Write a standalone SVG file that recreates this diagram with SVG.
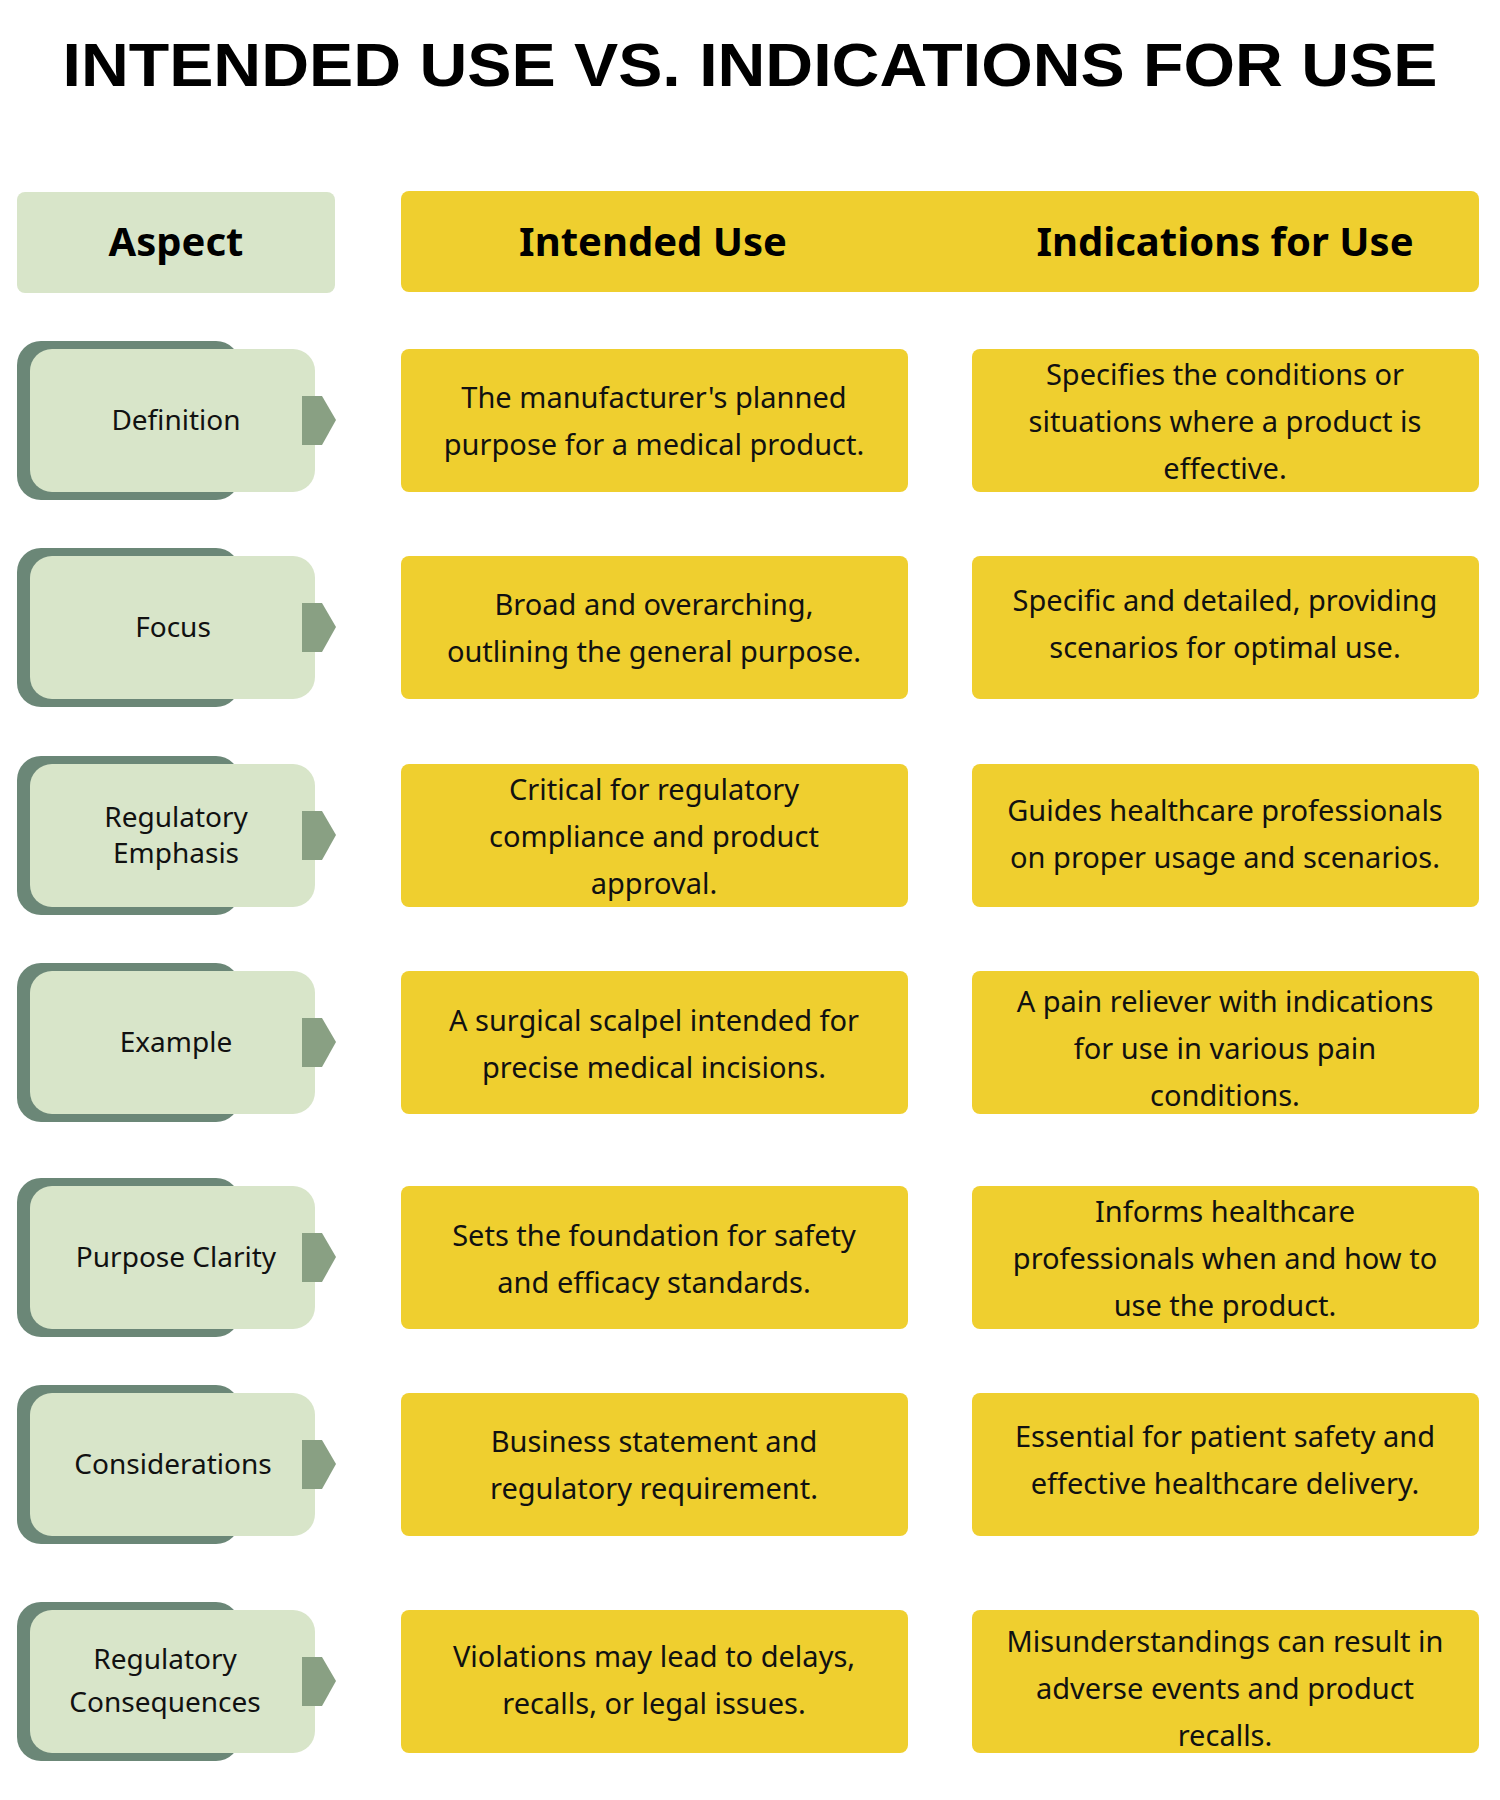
<svg xmlns="http://www.w3.org/2000/svg" width="1500" height="1800" viewBox="0 0 1500 1800">
<defs><style>
.t{font-family:"Liberation Sans",Arial,sans-serif;font-weight:bold;font-size:62px;fill:#000}
.h{font-family:"Noto Sans","Liberation Sans",sans-serif;font-weight:bold;font-size:40px;fill:#000;text-anchor:middle}
.b{font-family:"Noto Sans","Liberation Sans",sans-serif;font-size:29px;fill:#111;text-anchor:middle}
.a{font-family:"Noto Sans","Liberation Sans",sans-serif;font-size:28px;fill:#111;text-anchor:middle}
.y{fill:#EFCF2F}.g{fill:#D8E5C9}.d{fill:#6B8777}.k{fill:#89A083}
</style>
<g id="aspectShape">
<rect class="d" x="17" y="-79" width="223" height="159" rx="24"/>
<rect class="g" x="30" y="-71" width="285" height="143" rx="22"/>
<polygon class="k" points="302,-24 322,-24 336,0 322,25 302,25"/>
</g>
</defs>
<rect width="1500" height="1800" fill="#fff"/>
<text class="t" x="750" y="86" text-anchor="middle" textLength="1375" lengthAdjust="spacingAndGlyphs">INTENDED USE VS. INDICATIONS FOR USE</text>
<g id="header">
<rect class="g" x="17" y="192" width="318" height="101" rx="8"/>
<rect class="y" x="401" y="191" width="1078" height="101" rx="8"/>
<text class="h" x="176" y="256">Aspect</text>
<text class="h" x="653" y="256">Intended Use</text>
<text class="h" x="1225" y="256">Indications for Use</text>
</g>
<g id="connectors"></g>

<g id="row1" transform="translate(0,420)">
<use href="#aspectShape"/>
<text class="a" x="176" y="10">Definition</text>
<rect class="y" x="401" y="-71" width="507" height="143" rx="8"/>
<text class="b" x="654" y="-12">The manufacturer's planned</text>
<text class="b" x="654" y="35">purpose for a medical product.</text>
<rect class="y" x="972" y="-71" width="507" height="143" rx="8"/>
<text class="b" x="1225" y="-35">Specifies the conditions or</text>
<text class="b" x="1225" y="12">situations where a product is</text>
<text class="b" x="1225" y="59">effective.</text>
</g>

<g id="row2" transform="translate(0,627)">
<use href="#aspectShape"/>
<text class="a" x="173" y="10">Focus</text>
<rect class="y" x="401" y="-71" width="507" height="143" rx="8"/>
<text class="b" x="654" y="-12">Broad and overarching,</text>
<text class="b" x="654" y="35">outlining the general purpose.</text>
<rect class="y" x="972" y="-71" width="507" height="143" rx="8"/>
<text class="b" x="1225" y="-16">Specific and detailed, providing</text>
<text class="b" x="1225" y="31">scenarios for optimal use.</text>
</g>

<g id="row3" transform="translate(0,835)">
<use href="#aspectShape"/>
<text class="a" x="176" y="-8">Regulatory</text>
<text class="a" x="176" y="28">Emphasis</text>
<rect class="y" x="401" y="-71" width="507" height="143" rx="8"/>
<text class="b" x="654" y="-35">Critical for regulatory</text>
<text class="b" x="654" y="12">compliance and product</text>
<text class="b" x="654" y="59">approval.</text>
<rect class="y" x="972" y="-71" width="507" height="143" rx="8"/>
<text class="b" x="1225" y="-14">Guides healthcare professionals</text>
<text class="b" x="1225" y="33">on proper usage and scenarios.</text>
</g>

<g id="row4" transform="translate(0,1042)">
<use href="#aspectShape"/>
<text class="a" x="176" y="10">Example</text>
<rect class="y" x="401" y="-71" width="507" height="143" rx="8"/>
<text class="b" x="654" y="-11">A surgical scalpel intended for</text>
<text class="b" x="654" y="36">precise medical incisions.</text>
<rect class="y" x="972" y="-71" width="507" height="143" rx="8"/>
<text class="b" x="1225" y="-30">A pain reliever with indications</text>
<text class="b" x="1225" y="17">for use in various pain</text>
<text class="b" x="1225" y="64">conditions.</text>
</g>

<g id="row5" transform="translate(0,1257)">
<use href="#aspectShape"/>
<text class="a" x="176" y="10">Purpose Clarity</text>
<rect class="y" x="401" y="-71" width="507" height="143" rx="8"/>
<text class="b" x="654" y="-11">Sets the foundation for safety</text>
<text class="b" x="654" y="36">and efficacy standards.</text>
<rect class="y" x="972" y="-71" width="507" height="143" rx="8"/>
<text class="b" x="1225" y="-35">Informs healthcare</text>
<text class="b" x="1225" y="12">professionals when and how to</text>
<text class="b" x="1225" y="59">use the product.</text>
</g>

<g id="row6" transform="translate(0,1464)">
<use href="#aspectShape"/>
<text class="a" x="173" y="10">Considerations</text>
<rect class="y" x="401" y="-71" width="507" height="143" rx="8"/>
<text class="b" x="654" y="-12">Business statement and</text>
<text class="b" x="654" y="35">regulatory requirement.</text>
<rect class="y" x="972" y="-71" width="507" height="143" rx="8"/>
<text class="b" x="1225" y="-17">Essential for patient safety and</text>
<text class="b" x="1225" y="30">effective healthcare delivery.</text>
</g>

<g id="row7" transform="translate(0,1681)">
<use href="#aspectShape"/>
<text class="a" x="165" y="-12">Regulatory</text>
<text class="a" x="165" y="31">Consequences</text>
<rect class="y" x="401" y="-71" width="507" height="143" rx="8"/>
<text class="b" x="654" y="-14">Violations may lead to delays,</text>
<text class="b" x="654" y="33">recalls, or legal issues.</text>
<rect class="y" x="972" y="-71" width="507" height="143" rx="8"/>
<text class="b" x="1225" y="-29">Misunderstandings can result in</text>
<text class="b" x="1225" y="18">adverse events and product</text>
<text class="b" x="1225" y="65">recalls.</text>
</g>
</svg>
